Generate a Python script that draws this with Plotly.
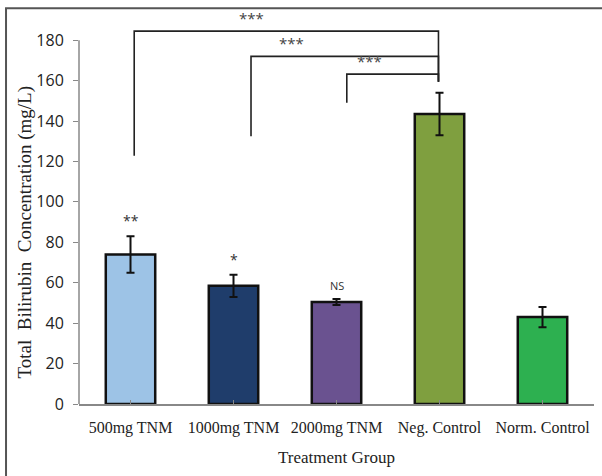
import plotly.graph_objects as go

categories = ["500mg TNM", "1000mg TNM", "2000mg TNM", "Neg. Control", "Norm. Control"]
values = [74, 58.5, 50.5, 143.5, 43]
errors = [9, 5.5, 1.5, 10.5, 5]
bar_colors = ["#9dc3e6", "#1f3d6b", "#6a5290", "#7f9f3f", "#2db050"]
sig_labels = ["**", "*", "NS", "", ""]

# comparison brackets (category positions / data values)
bracket_left_x = [0.036, 1.17, 2.1]
bracket_left_bottom = [122.8, 132.5, 149.0]
bracket_top = [184.5, 172.0, 163.2]
bracket_right_x = [2.99, 2.99, 2.99]
bracket_right_bottom = [159.4, 159.4, 159.4]
bracket_label_x = [1.17, 1.56, 2.32]
bracket_labels = ["***", "***", "***"]

x_idx = list(range(len(categories)))

fig = go.Figure()
fig.add_trace(go.Bar(
    x=x_idx, y=values, width=0.48,
    marker=dict(color=bar_colors, line=dict(color="#111111", width=2.5)),
    error_y=dict(type="data", array=errors, visible=True, color="#111111",
                 thickness=2, width=4),
    showlegend=False,
))

annotations = []
for i, (v, e, s) in enumerate(zip(values, errors, sig_labels)):
    if s:
        annotations.append(dict(
            x=i, y=v + e, xref="x", yref="y", text=s, showarrow=False,
            yanchor="bottom", yshift=4,
            font=dict(family="Open Sans, sans-serif",
                      size=11 if s == "NS" else 14, color="#333333")))

shapes = []
for lx, lb, ty, rx, rb, tx, tl in zip(bracket_left_x, bracket_left_bottom, bracket_top,
                                       bracket_right_x, bracket_right_bottom,
                                       bracket_label_x, bracket_labels):
    shapes.append(dict(type="path", xref="x", yref="y",
                       path=f"M {lx} {lb} L {lx} {ty} L {rx} {ty} L {rx} {rb}",
                       line=dict(color="#222222", width=1.6)))
    annotations.append(dict(x=tx, y=ty, xref="x", yref="y", text=tl, showarrow=False,
                            yanchor="bottom", yshift=1,
                            font=dict(family="Open Sans, sans-serif", size=15,
                                      color="#444444")))

# y-axis title
annotations.append(dict(x=-0.1049, y=0.449, xref="paper", yref="paper",
                        text="Total  Bilirubin  Concentration (mg/L)", textangle=-90,
                        showarrow=False, xanchor="center", yanchor="middle",
                        font=dict(family="Liberation Serif, Times New Roman, serif",
                                  size=19, color="#222222")))

# y-axis line from 0 to 180
shapes.append(dict(type="line", xref="paper", yref="y", x0=0, x1=0, y0=0, y1=180,
                   line=dict(color="#888888", width=1.5)))
# outer frame (left and top)
shapes.append(dict(type="path", xref="paper", yref="paper",
                   path="M -0.1417 -0.3 L -0.1417 1.0307 L 1.2 1.0307",
                   line=dict(color="#555555", width=2)))

fig.update_layout(
    width=602, height=476,
    margin=dict(l=79, r=8, t=20, b=72),
    paper_bgcolor="white", plot_bgcolor="white",
    bargap=0.52,
    shapes=shapes, annotations=annotations,
    xaxis=dict(
        tickmode="array", tickvals=x_idx, ticktext=categories,
        range=[-0.5, 4.5], tickson="boundaries", ticks="inside", ticklen=4,
        tickcolor="#888888", showline=True, linecolor="#888888", linewidth=1.5,
        showgrid=False, zeroline=False, ticklabelstandoff=8,
        tickfont=dict(family="Liberation Serif, Times New Roman, serif", size=16,
                      color="#222222"),
        title=dict(text="Treatment Group", standoff=15,
                   font=dict(family="Liberation Serif, Times New Roman, serif",
                             size=17, color="#222222")),
    ),
    yaxis=dict(
        range=[0, 190], tickvals=[0, 20, 40, 60, 80, 100, 120, 140, 160, 180],
        ticks="outside", ticklen=5, tickcolor="#888888",
        showline=False, showgrid=False, zeroline=False, ticklabelstandoff=6,
        tickfont=dict(family="Open Sans, sans-serif", size=16, color="#222222"),
    ),
)

fig.write_html("out.html", config={"displayModeBar": False},
               post_script="document.body.style.margin='0';document.body.style.overflow='hidden';")
